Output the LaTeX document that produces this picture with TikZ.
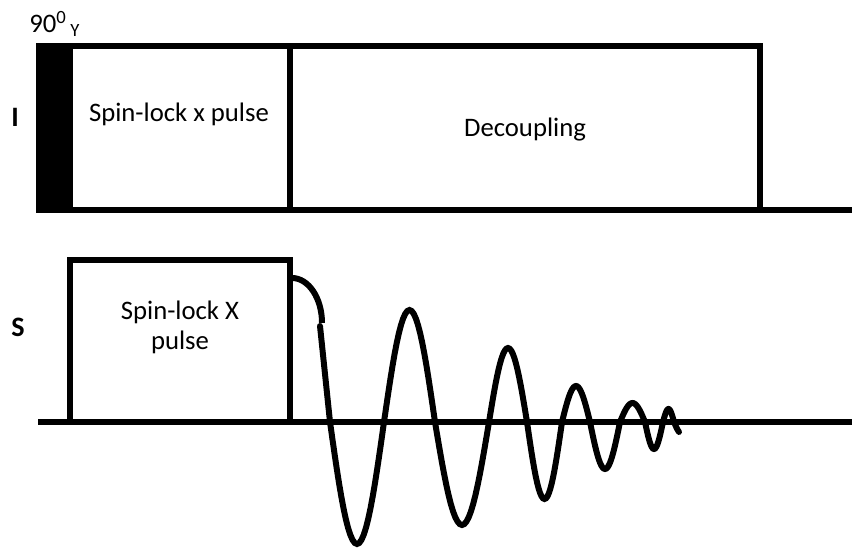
\documentclass[tikz,border=0pt]{standalone}
\usepackage{fontspec}
\setmainfont{Carlito}
\tikzset{
  seq/.style={line width=3.4pt},
  fid/.style={line width=3.4pt, line cap=round},
  hard/.style={fill=black},
  lbl/.style={font=\fontsize{15.2}{18}\selectfont, inner sep=0pt, anchor=base},
  chan/.style={font=\fontsize{16}{19}\selectfont\bfseries, inner sep=0pt, anchor=base},
}
\begin{document}
\begin{tikzpicture}[x=0.02cm, y=-0.02cm]
  \useasboundingbox (0,0) rectangle (852,550);
  % I channel
  \fill[hard] (36,43) rectangle (73,213);
  \draw[seq] (73,46) -- (760,46) -- (760,210);
  \draw[seq] (290,46) -- (290,210);
  \draw[seq] (36,210) -- (852,210);
  \node[lbl, anchor=base west] (flip) at (29,33) {90\textsuperscript{0}\hspace{2pt}\textsubscript{Y}};
  \node[chan] (chI) at (15,127) {I};
  \node[lbl] (slI) at (179,122) {Spin-lock x pulse};
  \node[lbl] (dec) at (525,137) {Decoupling};
  % S channel
  \draw[seq] (38,422) -- (852,422);
  \draw[seq] (70,422) -- (70,260) -- (290,260) -- (290,422);
  \node[chan] (chS) at (18,337) {S};
  \node[lbl] (slS) at (180,320) {Spin-lock X};
  \node[lbl] (slS2) at (180,350) {pulse};
  % signal
  \draw[seq] (292,278) arc[start angle=-90, end angle=0, x radius=30, y radius=45];
  \draw[fid] (320,326) -- (330,422);
  \foreach \xa/\xb/\amp in {330/384/122, 384/435/-112, 435/489/103, 489/527/-74,
      527/562/77, 562/590/-36, 590/620/47, 620/645/-19, 645/663/27, 663/674/-13}
    \draw[fid] plot[domain=\xa:\xb, samples=25] (\x, {422+\amp*sin(180*(\x-\xa)/(\xb-\xa))});
  \draw[fid] plot[domain=674:679, samples=6] (\x, {422+12*sin(180*(\x-674)/16)});
\end{tikzpicture}
\end{document}
